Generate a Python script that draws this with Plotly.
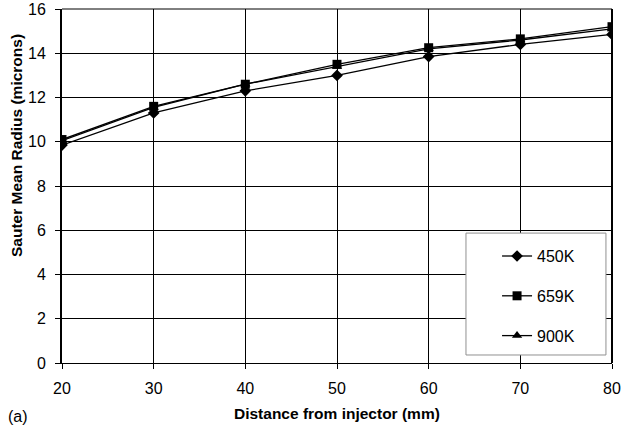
import plotly.graph_objects as go

# Distance from injector (mm)
distance = [20, 30, 40, 50, 60, 70, 80]

# Sauter mean radius (microns) at each chamber temperature
smr_450k = [9.85, 11.3, 12.3, 13.0, 13.85, 14.4, 14.85]
smr_659k = [10.1, 11.6, 12.6, 13.5, 14.25, 14.65, 15.2]
smr_900k = [10.05, 11.55, 12.6, 13.4, 14.2, 14.6, 15.1]

series_names = ["450K", "659K", "900K"]
series_values = [smr_450k, smr_659k, smr_900k]
series_symbols = ["diamond", "square", "triangle-up"]

x_ticks = [20, 30, 40, 50, 60, 70, 80]
y_ticks = [0, 2, 4, 6, 8, 10, 12, 14, 16]

FONT = "Liberation Sans, Arial, sans-serif"

fig = go.Figure()
for i, (name, vals, sym) in enumerate(zip(series_names, series_values, series_symbols)):
    fig.add_trace(go.Scatter(
        x=distance, y=vals, name=name, mode="lines+markers",
        line=dict(color="black", width=1.3),
        marker=dict(symbol=sym, size=9, color="black"),
        legendgroup=f"g{i}",
    ))

fig.update_layout(
    width=621, height=429,
    margin=dict(l=62, r=9, t=9, b=66, autoexpand=False),
    paper_bgcolor="white", plot_bgcolor="white",
    font=dict(family=FONT, size=16, color="black"),
    showlegend=True,
    legend=dict(
        x=0.791, y=0.350, xanchor="left", yanchor="top",
        bgcolor="rgba(0,0,0,0)", borderwidth=0,
        font=dict(family=FONT, size=16, color="black"),
        tracegroupgap=16, traceorder="grouped",
    ),
    xaxis=dict(
        range=[20, 80], tickvals=x_ticks, ticks="outside", ticklen=5,
        tickcolor="black", showgrid=True, gridcolor="black", gridwidth=1,
        showline=True, linecolor="black", linewidth=1, zeroline=False,
        tickfont=dict(family=FONT, size=16), ticklabelstandoff=6,
        automargin=False,
    ),
    yaxis=dict(
        range=[0, 16], tickvals=y_ticks, ticks="outside", ticklen=5,
        tickcolor="black", showgrid=True, gridcolor="black", gridwidth=1,
        showline=True, linecolor="black", linewidth=2, zeroline=False,
        tickfont=dict(family=FONT, size=16), ticklabelstandoff=6,
        automargin=False,
    ),
)

# plot-area frame: thicker right edge, thin top edge
fig.add_shape(type="line", xref="paper", yref="paper", x0=1, x1=1, y0=0, y1=1,
              line=dict(color="black", width=2))
fig.add_shape(type="line", xref="paper", yref="paper", x0=0, x1=1, y0=1, y1=1,
              line=dict(color="black", width=1))
# legend box
fig.add_shape(type="rect", xref="paper", yref="paper",
              x0=0.7345, x1=0.989, y0=0.0226, y1=0.367,
              fillcolor="white", line=dict(color="#909090", width=1), layer="above")

# axis titles and panel label
fig.add_annotation(text="<b>Distance from injector (mm)</b>", xref="paper", yref="paper",
                   x=0.5, y=-0.144, xanchor="center", yanchor="middle", showarrow=False,
                   font=dict(family=FONT, size=15.5, color="black"))
fig.add_annotation(text="<b>Sauter Mean Radius (microns)</b>", xref="paper", yref="paper",
                   x=-0.0818, y=0.613, xanchor="center", yanchor="middle", showarrow=False,
                   textangle=-90, font=dict(family=FONT, size=15.5, color="black"))
fig.add_annotation(text="(a)", xref="paper", yref="paper", x=-0.1018, y=-0.150,
                   xanchor="left", yanchor="middle", showarrow=False,
                   font=dict(family=FONT, size=16, color="black"))

fig.write_html("out.html")
